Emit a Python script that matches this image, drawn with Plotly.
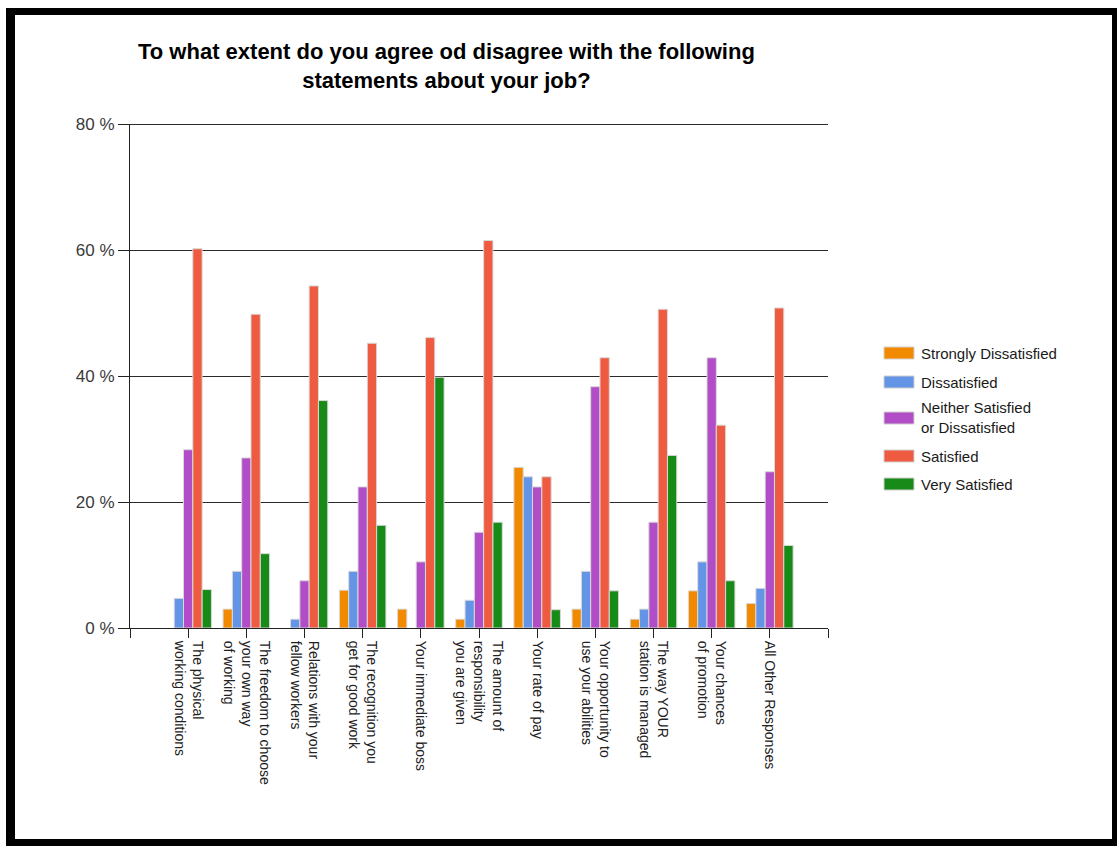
import plotly.graph_objects as go

# Survey: job satisfaction by aspect (percent of respondents)
categories = [
    "The physical<br>working conditions",
    "The freedom to choose<br>your own way<br>of working",
    "Relations with your<br>fellow workers",
    "The recognition you<br>get for good work",
    "Your immediate boss",
    "The amount of<br>responsibility<br>you are given",
    "Your rate of pay",
    "Your opportunity to<br>use your abilities",
    "The way YOUR<br>station is managed",
    "Your chances<br>of promotion",
    "All Other Responses",
]

strongly_dissatisfied = [None, 3.0, None, 6.0, 3.0, 1.4, 25.5, 3.0, 1.4, 5.9, 3.9]
dissatisfied = [4.7, 9.0, 1.4, 9.0, None, 4.4, 24.0, 9.0, 3.0, 10.5, 6.3]
neither = [28.3, 27.0, 7.5, 22.4, 10.5, 15.2, 22.4, 38.3, 16.8, 42.9, 24.8]
satisfied = [60.2, 49.8, 54.3, 45.2, 46.1, 61.5, 24.0, 42.9, 50.6, 32.2, 50.8]
very_satisfied = [6.1, 11.8, 36.1, 16.3, 39.8, 16.8, 2.9, 5.9, 27.4, 7.5, 13.1]

series_names = [
    "Strongly Dissatisfied",
    "Dissatisfied",
    "Neither Satisfied<br>or Dissatisfied",
    "Satisfied",
    "Very Satisfied",
]
series_values = [strongly_dissatisfied, dissatisfied, neither, satisfied, very_satisfied]
series_colors = ["#F28A00", "#6494E6", "#B24DC8", "#EF5B41", "#178A17"]

y_ticks = [0, 20, 40, 60, 80]
y_tick_labels = [f"{v} %" for v in y_ticks]

title_text = ("To what extent do you agree od disagree with the following<br>"
              "statements about your job?")

FONT = "Liberation Sans, Arial, sans-serif"
GRID = "#2a2a2a"

# canvas / plot-area geometry in pixels
W, H = 1117, 846
L, R, T, B = 130, 828, 124, 628
PW, PH = R - L, B - T


def px_x(px):
    return (px - L) / PW


def px_y(py):
    return (B - py) / PH


positions = list(range(len(categories)))

fig = go.Figure()
for name, vals, color in zip(series_names, series_values, series_colors):
    fig.add_trace(go.Bar(
        x=positions,
        y=vals,
        name=name,
        marker=dict(color=color, line=dict(color="#D9D9D9", width=1)),
        showlegend=False,
    ))

shapes = []
annotations = []

# top gridline sits on the plot edge, so draw it explicitly
# (nudged half a pixel inward so it renders crisp)
top_y = px_y(T + 0.5)
shapes.append(dict(type="line", xref="paper", yref="paper", x0=0, x1=1,
                   y0=top_y, y1=top_y,
                   line=dict(color=GRID, width=1), layer="below"))

# outer frame
frame = [
    (6, 8, 15, 846),       # left
    (6, 8, 1117, 15),      # top
    (1112, 8, 1117, 846),  # right
    (6, 839, 1117, 846),   # bottom
]
for x0, y0, x1, y1 in frame:
    shapes.append(dict(type="rect", xref="paper", yref="paper",
                       x0=px_x(x0), x1=px_x(x1), y0=px_y(y0), y1=px_y(y1),
                       fillcolor="black", line=dict(width=0), layer="above"))

# legend drawn beside the plot
legend_rows = [353, 382, 418, 456, 484]
for name, color, cy in zip(series_names, series_colors, legend_rows):
    shapes.append(dict(type="rect", xref="paper", yref="paper",
                       x0=px_x(884), x1=px_x(914), y0=px_y(cy - 6), y1=px_y(cy + 6),
                       fillcolor=color, line=dict(color="#D0D0D0", width=1)))
    annotations.append(dict(xref="paper", yref="paper", x=px_x(919), y=px_y(cy),
                            xanchor="left", yanchor="middle", align="left",
                            text=name, showarrow=False,
                            font=dict(family=FONT, size=15, color="#1a1a1a")))

# chart title
annotations.append(dict(xref="paper", yref="paper", x=px_x(446), y=px_y(66),
                        xanchor="center", yanchor="middle", align="center",
                        text=title_text, showarrow=False,
                        font=dict(family=FONT, size=22, color="black", weight="bold")))

fig.update_layout(
    width=W, height=H,
    margin=dict(l=L, r=W - R, t=T, b=H - B, pad=0, autoexpand=False),
    paper_bgcolor="white", plot_bgcolor="white",
    barmode="group", bargap=0.2, bargroupgap=0.0,
    shapes=shapes, annotations=annotations,
    showlegend=False,
    font=dict(family=FONT, color="#222"),
)

fig.update_xaxes(
    range=[-1, len(categories)],
    tickvals=[-1] + positions + [len(categories)],
    ticktext=[""] + categories + [""],
    tickangle=90,
    tickfont=dict(family=FONT, size=14, color="#222"),
    ticks="outside", ticklen=9, tickwidth=1, tickcolor="#222",
    showline=True, linecolor="#222", linewidth=1,
    showgrid=False, zeroline=False, automargin=False,
)

fig.update_yaxes(
    range=[0, 80],
    tickvals=y_ticks,
    ticktext=y_tick_labels,
    tickfont=dict(family=FONT, size=17, color="#3a3a3a"),
    ticks="outside", ticklen=11, tickwidth=1, tickcolor="#222",
    showline=True, linecolor="#222", linewidth=1,
    showgrid=True, gridcolor=GRID, gridwidth=1,
    zeroline=False, automargin=False,
)

fig.write_html("out.html")
